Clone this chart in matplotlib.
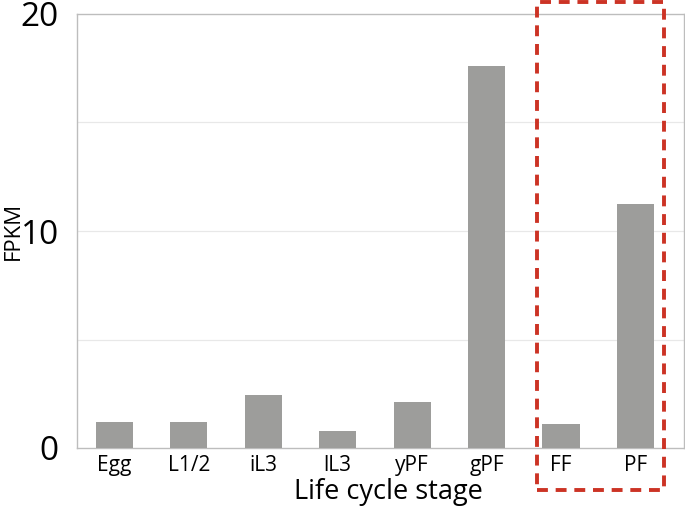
import matplotlib
matplotlib.use("Agg")
import matplotlib.pyplot as plt
from matplotlib.patches import Rectangle

stages = ["Egg", "L1/2", "iL3", "lL3", "yPF", "gPF", "FF", "PF"]
fpkm = [1.2, 1.2, 2.45, 0.78, 2.1, 17.6, 1.1, 11.25]
y_ticks = [0, 10, 20]
grid_lines = [5, 10, 15]

plt.rcParams['font.family'] = ['Open Sans', 'DejaVu Sans']

fig = plt.figure(figsize=(6.85, 5.15), dpi=100)
ax = fig.add_axes([77/685, 1 - 448/515, (684-77)/685, (448-14)/515])

x = list(range(len(stages)))
ax.bar(x, fpkm, width=0.5, color="#9d9d9b", zorder=3)

for g in grid_lines:
    ax.axhline(g, color="#e8e8e8", lw=0.9, zorder=1)

ax.set_xlim(-0.5, 7.65)
ax.set_ylim(0, 20)
ax.set_yticks(y_ticks)
ax.set_yticklabels([str(t) for t in y_ticks], fontsize=24)
ax.set_xticks(x)
ax.set_xticklabels(stages, fontsize=15)
ax.tick_params(length=0, pad=5)
ax.tick_params(axis="y", pad=13)
for s in ax.spines.values():
    s.set_color("#bdbdbd")
    s.set_linewidth(1)

ax.set_xlabel("Life cycle stage", fontsize=19.5)
ax.xaxis.set_label_coords(0.513, -0.07)
ax.xaxis.label.set_va("top")
ax.set_ylabel("FPKM", fontsize=16)
ax.yaxis.set_label_coords(-0.088, 0.5)

# dashed box around the adult stages
rect = Rectangle((5.67, -1.94), 1.71, 22.5, fill=False, ec="#cc3325",
                 lw=2.8, ls=(0, (2.8, 2.0)), clip_on=False, zorder=5)
ax.add_patch(rect)

fig.savefig("out.png", dpi=100)
